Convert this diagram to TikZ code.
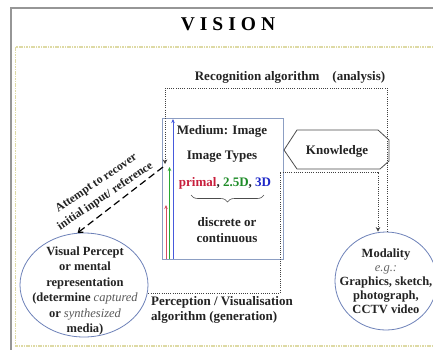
\documentclass[tikz,border=0pt]{standalone}
\usepackage{fontspec}
\setmainfont{Liberation Serif}
\usetikzlibrary{arrows.meta,decorations.pathreplacing,shapes.geometric}
\definecolor{frameg}{RGB}{150,150,150}
\definecolor{paleolive}{RGB}{222,218,165}
\definecolor{ellblue}{RGB}{110,130,185}
\definecolor{boxblue}{RGB}{140,158,195}
\definecolor{primred}{RGB}{200,30,60}
\definecolor{midgreen}{RGB}{30,140,40}
\definecolor{deepblue}{RGB}{30,40,200}
\definecolor{arrred}{RGB}{215,80,100}
\definecolor{arrgreen}{RGB}{40,170,50}
\definecolor{arrblue}{RGB}{70,90,220}
\definecolor{inkgray}{RGB}{35,35,35}
\begin{document}
\begin{tikzpicture}[x=1pt,y=-1pt,
  lbl/.style={font=\bfseries\fontsize{13}{14}\selectfont, text=inkgray, inner sep=0pt, align=center},
  lblsmall/.style={font=\bfseries\fontsize{11.8}{16}\selectfont, text=inkgray, inner sep=0pt, align=center},
  titlefont/.style={font=\bfseries\fontsize{19.5}{22}\selectfont, text=black, inner sep=0pt},
  dotline/.style={draw=black!75, line width=0.9pt, dash pattern=on 0.9pt off 1.3pt},
  dottip/.style={-{Stealth[length=4.5pt,width=4.5pt]}},
  bubble/.style={ellipse, draw=ellblue, line width=0.8pt, inner sep=0pt},
  dasharrow/.style={draw=black, line width=1.2pt, dash pattern=on 7pt off 4pt, -{Straight Barb[length=4pt,width=6pt]}},
  colarrow/.style={line width=0.9pt, -{Stealth[length=4pt,width=3.5pt]}}
]
\useasboundingbox (0,0) rectangle (433,349);
\clip (0,0) rectangle (433,349);
\fill[white] (0,0) rectangle (433,349);

% outer frame and inner dashed frame
\draw[frameg, line width=1.3pt] (11,360) -- (11,8) -- (445,8);
\draw[paleolive, line width=1.8pt, dash pattern=on 1.6pt off 0.8pt] (15.5,47) rectangle (445,346);

% title
\node[titlefont] (title) at (228,24) {V\kern5pt I\kern5pt S\kern5pt I\kern5pt O\kern5pt N};

% recognition label
\node[lbl] (rectxt) at (290,77) {Recognition algorithm\quad (analysis)};

% medium box
\node[draw=boxblue, line width=0.8pt, minimum width=121pt, minimum height=141pt, inner sep=0pt] (medium) at (222.5,188.5) {};
\node[lbl] (m1) at (222,131) {Medium: Image};
\node[lbl] (m2) at (222,157) {Image Types};
\node[lbl] (m3) at (225,183) {\textcolor{primred}{primal}, \textcolor{midgreen}{2.5D}, \textcolor{deepblue}{3D}};
\draw[black!70, line width=0.6pt, decorate, decoration={brace, amplitude=7pt}] (264,195) -- (191,195);
\node[lbl] (m4) at (227,222) {discrete or};
\node[lbl] (m5) at (227,238) {continuous};

% colored arrows inside the box
\coordinate (redtop) at (166,205);
\coordinate (greentop) at (169.5,167);
\coordinate (bluetop) at (173,119);
\draw[colarrow, arrred] (medium.south -| redtop) -- (redtop);
\draw[colarrow, arrgreen] (medium.south -| greentop) -- (greentop);
\draw[colarrow, arrblue] (medium.south -| bluetop) -- (bluetop);

% knowledge
\node[lbl] (know) at (337,151) {Knowledge};
\draw[black!70, line width=0.8pt] (284,150) -- (297,130) -- (378,130) -- (389,140) -- (389,161) -- (380,169) -- (297,169) -- cycle;

% visual percept
\node[bubble, minimum width=128pt, minimum height=104pt] (vp) at (84,285) {};
\node[lbl, font=\bfseries\fontsize{12.5}{15.5}\selectfont] (vptext) at (85,291)
  {Visual Percept\\or mental\\representation\\(determine {\mdseries\itshape\color{black!65}captured}\\or {\mdseries\itshape\color{black!65}synthesized}\\media)};

% modality
\node[bubble, minimum width=102pt, minimum height=98pt] (mod) at (386,281) {};
\node[lbl, font=\bfseries\fontsize{12.5}{14}\selectfont] (modtxt) at (386,281)
  {Modality\\{\mdseries\itshape\color{black!60}e.g.:}\\Graphics, sketch,\\photograph,\\CCTV video};

% perception label
\node[lbl, anchor=north west, align=left, font=\bfseries\fontsize{13}{15}\selectfont] (perc) at (151,296)
  {Perception / Visualisation\\algorithm (generation)};

% recognition loop
\coordinate (r1) at (387,88);
\coordinate (r2) at (165,88);
\coordinate (r3) at (165,164);
\draw[dotline, dottip] (mod.north -| r1) -- (r1) -- (r2) -- (r3);

% perception loop
\coordinate (p1) at (280,293);
\coordinate (p2) at (280,172);
\coordinate (p3) at (378,172);
\draw[dotline, dottip] (p1 -| vp.east) -- (p1) -- (p2) -- (p3) -- (p3 |- mod.north);

% attempt to recover
\coordinate (dstart) at (163,167);
\draw[dasharrow] (dstart) -- (vp.97);
\node[lblsmall, rotate=34] (attlbl) at (101,190) {Attempt to recover\\initial input/ reference};
\end{tikzpicture}
\end{document}
